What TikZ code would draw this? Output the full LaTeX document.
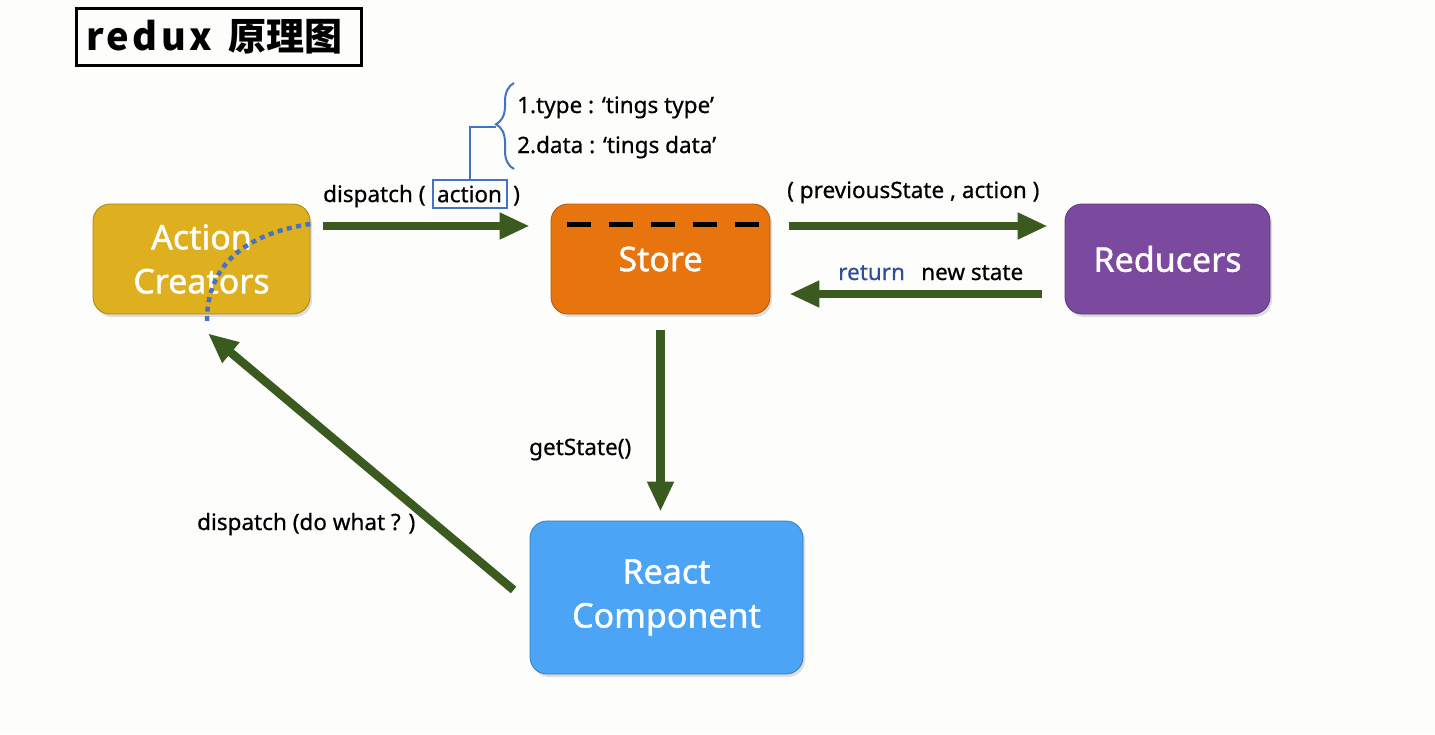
\documentclass[tikz,border=0pt]{standalone}
\usepackage{fontspec}
\setmainfont{Noto Sans}[FakeBold=0.6]
\newfontfamily\cjk{Noto Sans CJK SC}
\newfontfamily\titlefont{Noto Sans CJK SC}[LetterSpace=9]
\newfontfamily\cardfont{Noto Sans}[FakeBold=1.2]
\usetikzlibrary{arrows.meta,shadows,calc,decorations.pathreplacing}

\definecolor{goldbox}{HTML}{DEB01F}
\definecolor{orangebox}{HTML}{E8740E}
\definecolor{purplebox}{HTML}{7B499E}
\definecolor{bluebox}{HTML}{4BA4F6}
\definecolor{arrgreen}{HTML}{3B5A1F}
\definecolor{markblue}{HTML}{4472C4}
\definecolor{retblue}{HTML}{2E4E9E}
\definecolor{pagebg}{HTML}{FDFEFC}

\tikzset{
  card/.style={draw=#1!75!black, fill=#1, line width=0.8pt, rounded corners=17pt,
    text=white, align=center, font=\cardfont\fontsize{34}{44}\selectfont,
    drop shadow={shadow xshift=2pt, shadow yshift=-3pt, opacity=0.25}},
  flow/.style={line width=8.5pt, color=arrgreen, -{Triangle[length=30pt,width=25pt]}},
  lbl/.style={inner sep=0pt, anchor=base west, font=\bfseries\fontsize{22.5}{26}\selectfont},
}

\begin{document}
\begin{tikzpicture}[x=1pt, y=-1pt]
  % canvas
  \fill[pagebg] (0,0) rectangle (1435,734);
  \useasboundingbox (0,0) rectangle (1435,734);

  % heading
  \draw[line width=3pt] (76,8) rectangle (361,65);
  \node[inner sep=0pt, anchor=base west, font=\fontsize{38}{40}\selectfont] (title) at (86,50)
    {\titlefont\bfseries redux};
  \node[inner sep=0pt, anchor=base west, font=\cjk\bfseries\fontsize{38}{40}\selectfont] (title2) at (228,50)
    {原理图};

  % components
  \node[card=goldbox, minimum width=217pt, minimum height=110pt] (act) at (201.5,259) {Action\\Creators};
  \node[card=orangebox, minimum width=219pt, minimum height=110pt] (store) at (660.5,259) {\raisebox{-3pt}{Store}};
  \node[card=purplebox, minimum width=205pt, minimum height=110pt] (red) at (1167.5,259) {Reducers};
  \node[card=bluebox, minimum width=273pt, minimum height=153pt] (react) at (666.5,597.5) {React\\Component};

  % state slot inside the store
  \draw[line width=4.5pt, dash pattern=on 24pt off 18pt] ([xshift=16pt,yshift=-21pt]store.north west) -- ([xshift=-3pt,yshift=-21pt]store.north east);

  % data flow
  \draw[flow] ([xshift=13pt,yshift=33pt]act.east) -- ([xshift=-21pt,yshift=33pt]store.west);
  \draw[flow] ([xshift=19pt,yshift=33pt]store.east) -- ([xshift=-17pt,yshift=33pt]red.west);
  \draw[flow] ([xshift=-23pt,yshift=-35pt]red.west) -- ([xshift=19pt,yshift=-35pt]store.east);
  \draw[flow] ([yshift=-16pt]store.south) -- ([xshift=-6pt,yshift=9pt]react.north);
  \draw[flow] ([xshift=-16pt,yshift=7.5pt]react.west) -- ([xshift=6.5pt,yshift=-19pt]act.south);

  % dotted trace across the creators box
  \draw[markblue, line width=4.5pt, dash pattern=on 5pt off 4.5pt]
    ([yshift=35pt]act.east) .. controls (245,234) and (207,265) .. (207,321);

  % labels
  \node[lbl] (d1) at (323,202) {dispatch (};
  \node[draw=markblue, line width=2pt, inner sep=0pt, minimum width=74pt, minimum height=28pt,
        font=\bfseries\fontsize{22.5}{26}\selectfont] (actlbl) at (469.5,194) {action};
  \node[lbl] (d2) at (513,202) {)};

  \coordinate (bt) at (496,127);
  \draw[markblue, line width=2pt] (actlbl.north) |- (bt);
  \draw[markblue, line width=2pt, decorate, decoration={brace, amplitude=18pt, aspect=0.52}]
    (514,169) -- (514,83);
  \node[lbl] (t1) at (517,113) {1.type : ‘tings type’};
  \node[lbl] (t2) at (517,153) {2.data : ‘tings data’};

  \node[lbl] (ps) at (787,198) {( previousState , action )};
  \node[lbl, text=retblue] (ret) at (838,280) {return};
  \node[lbl] (ns) at (921,280) {new state};
  \node[lbl] (gs) at (529,455) {getState()};
  \node[lbl] (dw) at (197,530) {dispatch (do what ? )};
\end{tikzpicture}
\end{document}
